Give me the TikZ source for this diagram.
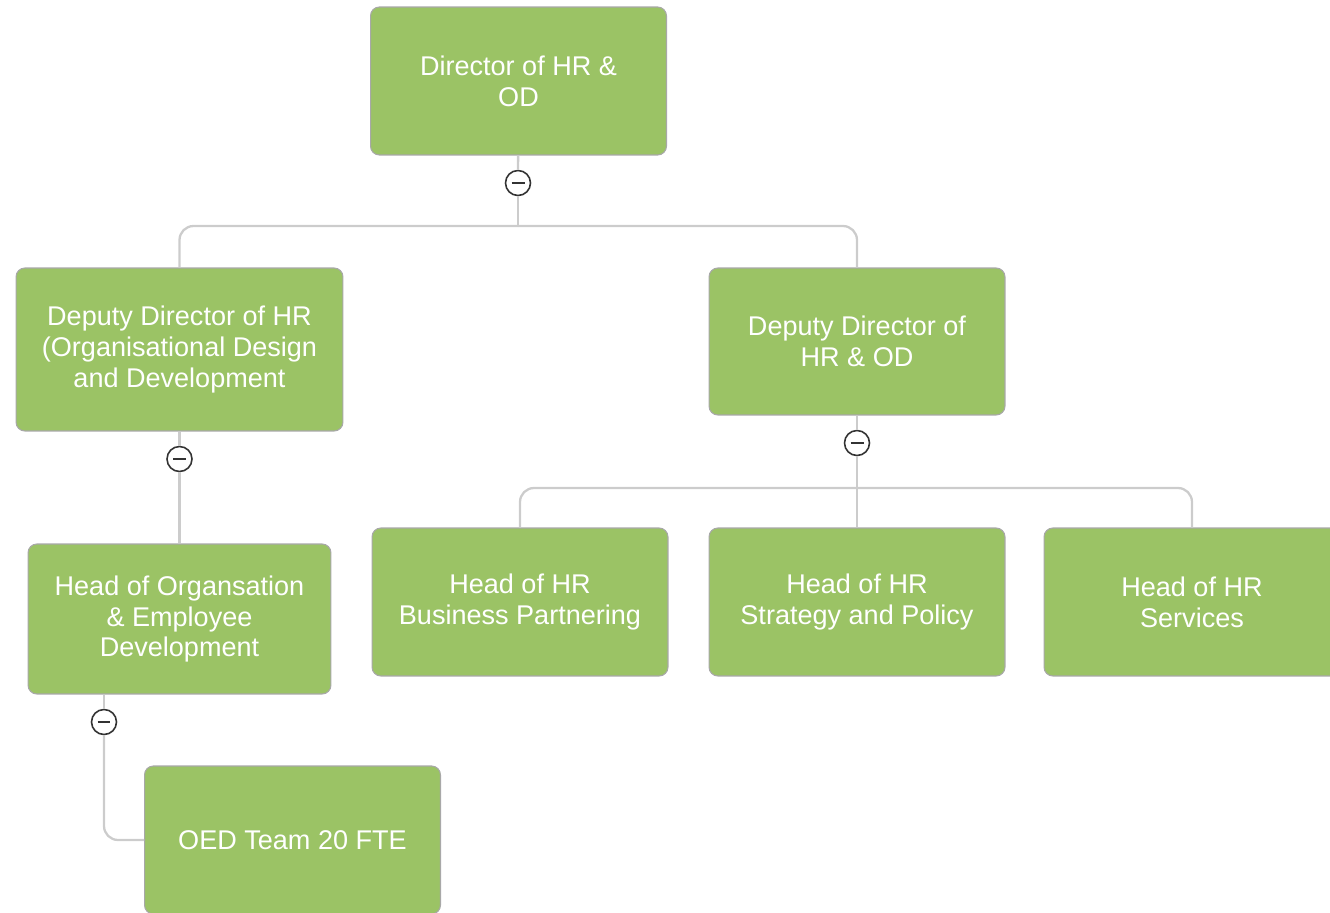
\documentclass[tikz,border=0pt]{standalone}
\usepackage{fontspec}
\setmainfont{Liberation Sans}
\usetikzlibrary{shapes.geometric, arrows}
\definecolor{hoja}{HTML}{9BC365}
\definecolor{borde}{HTML}{A8A8A8}
\definecolor{linea}{HTML}{CCCCCC}
\tikzstyle{rec} = [rectangle, rounded corners=5pt, fill=hoja, draw=borde, line width=0.6pt, text=white, align=center, font=\fontsize{15.4}{17.6}\selectfont, minimum width=5.92cm, minimum height=2.96cm, inner sep=0pt]
\tikzstyle{line} = [draw=linea, line width=1.3pt]
\tikzstyle{menos} = [circle, draw=black!80, fill=white, line width=0.9pt, minimum size=0.5cm, inner sep=0pt, path picture={\draw[line width=1.5pt, black!80] ([xshift=-0.13cm]path picture bounding box.center) -- ([xshift=0.13cm]path picture bounding box.center);}]

\begin{document}
\begin{tikzpicture}[x=0.02cm, y=-0.02cm]
		\useasboundingbox (0,0) rectangle (1330,913);
		\clip (0,0) rectangle (1330,913);
		\node (dir) [rec] at (518.5,81) {Director of HR \&\\OD};
		\node (depizq) [rec, minimum width=6.54cm, minimum height=3.26cm] at (179.5,349.5) {Deputy Director of HR\\(Organisational Design\\and Development};
		\node (depder) [rec, minimum height=2.94cm] at (857,341.5) {Deputy Director of\\HR \& OD};
		\node (org) [rec, minimum width=6.06cm, minimum height=3cm] at (179.5,619) {Head of Organsation\\\& Employee\\Development};
		\node (socios) [rec] at (520,602) {Head of HR\\Business Partnering};
		\node (estrategia) [rec] at (857,602) {Head of HR\\Strategy and Policy};
		\node (servicios) [rec] at (1192,602) {Head of HR\\Services};
		\node (oed) [rec] at (292.5,840) {OED Team 20 FTE};
		% botones de plegado
		\node (m1) [menos] at (518,183) {};
		\node (m2) [menos] at (179.5,459) {};
		\node (m3) [menos] at (857,443) {};
		\node (m4) [menos] at (104,722) {};
		\coordinate (j1) at (518,226);
		\coordinate (j2) at (857,488);
		\draw [line] (dir) -- (m1);
		\draw [line] (m1) -- (j1);
		\draw [line, rounded corners=8pt] (j1) -| (depizq.north);
		\draw [line, rounded corners=8pt] (j1) -| (depder.north);
		\draw [line] (depizq) -- (m2);
		\draw [line] (m2) -- (org);
		\draw [line] (depder) -- (m3);
		\draw [line] (m3) -- (estrategia);
		\draw [line, rounded corners=8pt] (j2) -| (socios.north);
		\draw [line, rounded corners=8pt] (j2) -| (servicios.north);
		\draw [line] (org.south -| m4) -- (m4);
		\draw [line, rounded corners=8pt] (m4) |- (oed.west);
	\end{tikzpicture}
\end{document}
